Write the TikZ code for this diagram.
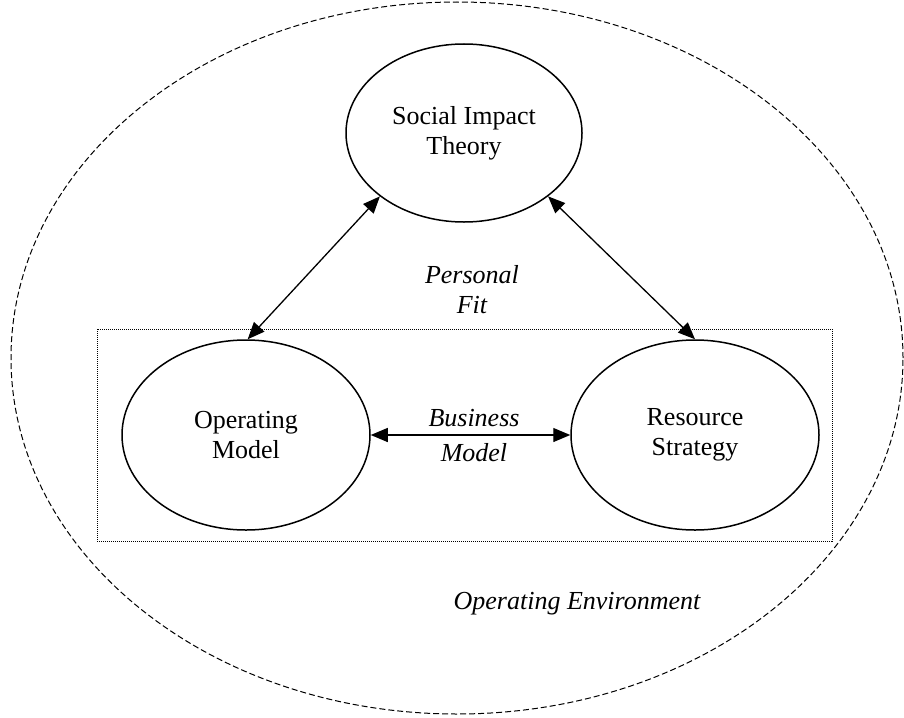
\documentclass[tikz,border=0pt]{standalone}
\usepackage{fontspec}
\setmainfont{Liberation Serif}
\usetikzlibrary{shapes.geometric,arrows.meta}

\begin{document}
\begin{tikzpicture}[x=1pt,y=-1pt,
  every node/.style={font=\fontsize{26}{30}\selectfont,align=center},
  bubble/.style={draw,ellipse,line width=1.5pt,inner sep=0pt},
  link/.style={{Triangle[length=17pt,width=14pt]}-{Triangle[length=17pt,width=14pt]},line width=1.3pt},
  lbl/.style={font=\fontsize{26}{30}\selectfont\itshape}]
\useasboundingbox (0,0) rectangle (904,717);
\node[draw,ellipse,dash pattern=on 6pt off 3pt,line width=1pt,inner sep=0pt,
  minimum width=892pt,minimum height=712pt] (env) at (457,358) {};
\node[draw,dash pattern=on 1pt off 1pt,line width=1pt,inner sep=0pt,
  minimum width=735pt,minimum height=212pt] (bm) at (464.5,435) {};
\node[bubble,minimum width=236pt,minimum height=178pt] (sit) at (464,133) {Social Impact\\Theory};
\node[bubble,minimum width=248pt,minimum height=190pt] (om) at (246,435) {Operating\\Model};
\node[bubble,minimum width=248pt,minimum height=190pt] (rs) at (695,435) {Resource\\Strategy};
\node[lbl] (pf) at (472,290) {Personal\\Fit};
\node[lbl] (bml) at (474,436) {Business\\[5pt]Model};
\node[lbl,anchor=base] (oe) at (577,609) {Operating Environment};
\draw[link] (sit.217) -- (om.89);
\draw[link] (sit.-37) -- (rs.90);
\draw[link] (om.east) -- (rs.west);
\end{tikzpicture}
\end{document}
